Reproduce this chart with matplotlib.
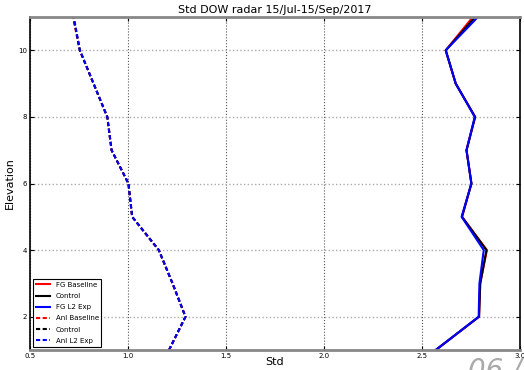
import numpy as np
import matplotlib
matplotlib.use('Agg')
import matplotlib.pyplot as plt

# elevation levels and std profiles
elev = [1, 2, 3, 4, 5, 6, 7, 8, 9, 10, 11]

fg_base = [2.571, 2.792, 2.798, 2.832, 2.705, 2.753, 2.728, 2.772, 2.673, 2.622, 2.760]
fg_ctrl = [2.571, 2.792, 2.798, 2.830, 2.705, 2.753, 2.728, 2.772, 2.673, 2.622, 2.772]
fg_l2 = [2.571, 2.790, 2.794, 2.816, 2.703, 2.753, 2.728, 2.770, 2.673, 2.622, 2.786]

anl_base = [1.210, 1.294, 1.228, 1.158, 1.022, 1.003, 0.917, 0.895, 0.825, 0.755, 0.720]
anl_ctrl = [1.210, 1.294, 1.228, 1.158, 1.022, 1.003, 0.917, 0.895, 0.825, 0.755, 0.722]
anl_l2 = [1.210, 1.294, 1.228, 1.158, 1.022, 1.003, 0.917, 0.895, 0.825, 0.755, 0.724]

fig = plt.figure(figsize=(5.24, 3.70), dpi=100)
ax = fig.add_axes([0.057, 0.054, 0.935, 0.9])

ax.plot(fg_base, elev, color='red', lw=1.5, label='FG Baseline')
ax.plot(fg_ctrl, elev, color='black', lw=1.5, label='Control')
ax.plot(fg_l2, elev, color='blue', lw=1.5, label='FG L2 Exp')
ax.plot(anl_base, elev, color='red', lw=1.5, dashes=(2, 1.2), label='Anl Baseline')
ax.plot(anl_ctrl, elev, color='black', lw=1.5, dashes=(2, 1.2), label='Control')
ax.plot(anl_l2, elev, color='blue', lw=1.5, dashes=(2, 1.2), label='Anl L2 Exp')

ax.set_xlim(0.5, 3.0)
ax.set_ylim(1, 11)
ax.set_xticks([0.5, 1.0, 1.5, 2.0, 2.5, 3.0])
ax.set_yticks([2, 4, 6, 8, 10])
ax.tick_params(direction='in', labelsize=5, length=3, top=True, right=True, pad=2)
ax.xaxis.grid(True, color='#555555', linestyle=':', lw=0.8)
ax.yaxis.grid(True, color='#aaaaaa', linestyle=':', lw=1.0)
ax.set_axisbelow(True)

for s in ['top', 'bottom']:
    ax.spines[s].set_color('#888888')
    ax.spines[s].set_linewidth(2)
for s in ['left', 'right']:
    ax.spines[s].set_linewidth(1.2)

ax.set_title('Std DOW radar 15/Jul-15/Sep/2017', fontsize=8, pad=3)
ax.set_xlabel('Std', fontsize=8, labelpad=-1)
ax.set_ylabel('Elevation', fontsize=8, labelpad=2)

leg = ax.legend(loc='lower left', fontsize=5, fancybox=False, framealpha=1,
                handlelength=2, labelspacing=0.75, borderaxespad=0.5)
leg.get_frame().set_edgecolor('black')
leg.get_frame().set_linewidth(0.8)

# faint stamp along the bottom edge
fig.text(0.893, -0.022, '06 /(', fontsize=20, color='#aaaaaa', style='italic')

fig.savefig('out.png', dpi=100)
